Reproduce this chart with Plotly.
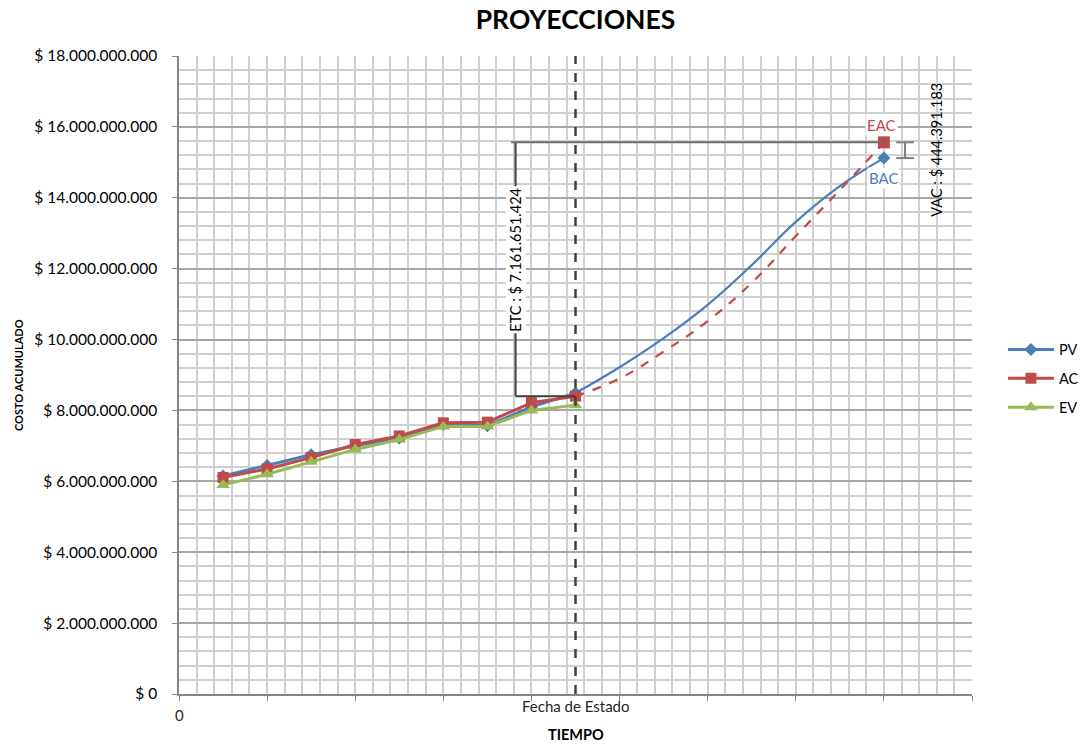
import plotly.graph_objects as go

# ---- data ----
periods = [1, 2, 3, 4, 5, 6, 7, 8, 9]
pv = [6.15e9, 6.45e9, 6.75e9, 7.00e9, 7.22e9, 7.60e9, 7.57e9, 8.10e9, 8.49e9]
ac = [6.11e9, 6.35e9, 6.67e9, 7.04e9, 7.28e9, 7.65e9, 7.67e9, 8.22e9, 8.403e9]
ev = [5.90e9, 6.20e9, 6.55e9, 6.90e9, 7.18e9, 7.55e9, 7.55e9, 8.00e9, 8.15e9]

forecast_periods = [9, 10, 11, 12, 13, 14, 15, 16]
pv_forecast = [8.49e9, 9.22e9, 10.04e9, 10.98e9, 12.10e9, 13.32e9, 14.33e9, 15.12e9]
eac_forecast = [8.403e9, 8.90e9, 9.66e9, 10.52e9, 11.60e9, 12.92e9, 14.22e9, 15.564e9]

status_period = 9
end_period = 16
bac = 15.12e9
eac = 15.564e9
ac_status = 8.403e9
etc_text = "ETC : $ 7.161.651.424"
vac_text = "VAC : $ 444.391.183"

ytick_vals = [0, 2e9, 4e9, 6e9, 8e9, 10e9, 12e9, 14e9, 16e9, 18e9]
ytick_text = ["$ 0", "$ 2.000.000.000", "$ 4.000.000.000", "$ 6.000.000.000",
              "$ 8.000.000.000", "$ 10.000.000.000", "$ 12.000.000.000",
              "$ 14.000.000.000", "$ 16.000.000.000", "$ 18.000.000.000"]

C_PV = "#4a7ebb"
C_AC = "#be4b48"
C_EV = "#98b954"
FONT = "Lato"

fig = go.Figure()

# forecast curves
fig.add_trace(go.Scatter(x=forecast_periods, y=pv_forecast, mode="lines",
                         line=dict(color=C_PV, width=2.2, shape="spline", smoothing=1.2),
                         showlegend=False, hoverinfo="skip"))
fig.add_trace(go.Scatter(x=forecast_periods, y=eac_forecast, mode="lines",
                         line=dict(color=C_AC, width=2.2, dash="dash", shape="spline", smoothing=1.2),
                         showlegend=False, hoverinfo="skip"))

# actual series
fig.add_trace(go.Scatter(x=periods, y=pv, mode="lines+markers", name="PV", legendgroup="pv",
                         line=dict(color=C_PV, width=3),
                         marker=dict(symbol="diamond", size=10, color=C_PV)))
fig.add_trace(go.Scatter(x=periods, y=ac, mode="lines+markers", name="AC", legendgroup="ac",
                         line=dict(color=C_AC, width=3),
                         marker=dict(symbol="square", size=11, color=C_AC)))
fig.add_trace(go.Scatter(x=periods, y=ev, mode="lines+markers", name="EV", legendgroup="ev",
                         line=dict(color=C_EV, width=3),
                         marker=dict(symbol="triangle-up", size=12, color=C_EV)))

# BAC / EAC end points
fig.add_trace(go.Scatter(x=[end_period], y=[bac], mode="markers", showlegend=False,
                         marker=dict(symbol="diamond", size=10, color=C_PV)))
fig.add_trace(go.Scatter(x=[end_period], y=[eac], mode="markers", showlegend=False,
                         marker=dict(symbol="square", size=12, color=C_AC)))

etc_x = 7.64
vac_x = 16.48
shapes = [
    # status date dashed line
    dict(type="line", xref="x", yref="paper", x0=status_period, x1=status_period,
         y0=0, y1=1, line=dict(color="#3f3f3f", width=2.5, dash="dash")),
    # ETC bracket
    dict(type="line", xref="x", yref="y", x0=etc_x, x1=etc_x, y0=ac_status, y1=eac,
         line=dict(color="#404040", width=2)),
    dict(type="line", xref="x", yref="y", x0=etc_x, x1=status_period, y0=ac_status, y1=ac_status,
         line=dict(color="#404040", width=2)),
    dict(type="line", xref="x", yref="y", x0=etc_x - 0.1, x1=end_period, y0=eac, y1=eac,
         line=dict(color="#6b6b6b", width=2)),
    # VAC I-beam
    dict(type="line", xref="x", yref="y", x0=vac_x, x1=vac_x, y0=bac, y1=eac,
         line=dict(color="#7f7f7f", width=2)),
    dict(type="line", xref="x", yref="y", x0=vac_x - 0.2, x1=vac_x + 0.2, y0=eac, y1=eac,
         line=dict(color="#7f7f7f", width=2)),
    dict(type="line", xref="x", yref="y", x0=vac_x - 0.2, x1=vac_x + 0.2, y0=bac, y1=bac,
         line=dict(color="#7f7f7f", width=2)),
]

annotations = [
    dict(x=etc_x, y=12.24e9, xref="x", yref="y", text=etc_text, textangle=-90,
         showarrow=False, bgcolor="white", font=dict(family=FONT, size=14.5, color="black")),
    dict(x=17.2, y=15.35e9, xref="x", yref="y", text=vac_text, textangle=-90,
         showarrow=False, font=dict(family=FONT, size=14.5, color="black")),
    dict(x=end_period - 0.05, y=16.05e9, xref="x", yref="y", text="EAC", showarrow=False,
         bgcolor="white", font=dict(family=FONT, size=15, color=C_AC)),
    dict(x=end_period, y=14.56e9, xref="x", yref="y", text="BAC", showarrow=False,
         bgcolor="white", font=dict(family=FONT, size=15, color=C_PV)),
    dict(x=0, y=-0.033, xref="x", yref="paper", text="0", showarrow=False,
         xanchor="center", yanchor="middle",
         font=dict(family=FONT, size=15, color="#262626")),
    dict(x=status_period, y=-0.019, xref="x", yref="paper", text="Fecha de Estado",
         showarrow=False, xanchor="center", yanchor="middle",
         font=dict(family=FONT, size=15, color="#262626")),
    dict(x=0.5, y=-0.064, xref="paper", yref="paper", text="<b>TIEMPO</b>",
         showarrow=False, xanchor="center", yanchor="middle",
         font=dict(family=FONT, size=14.5, color="black")),
    dict(x=-0.203, y=0.5, xref="paper", yref="paper", text="<b>COSTO ACUMULADO</b>",
         textangle=-90, showarrow=False, xanchor="center", yanchor="middle",
         font=dict(family=FONT, size=11, color="black")),
]

W, H = 1081, 744
fig.update_layout(
    width=W, height=H,
    margin=dict(l=179, r=109, t=56, b=50, autoexpand=False),
    paper_bgcolor="white", plot_bgcolor="white",
    title=dict(text="<b>PROYECCIONES</b>", x=(179 + 972) / 2 / W, xanchor="center",
               y=1 - 20 / H, yanchor="middle",
               font=dict(family=FONT, size=26.5, color="black")),
    font=dict(family=FONT, size=14, color="black"),
    shapes=shapes, annotations=annotations,
    legend=dict(x=1.039, y=0.565, xanchor="left", yanchor="top",
                font=dict(family=FONT, size=14.5, color="black"),
                bgcolor="rgba(0,0,0,0)", tracegroupgap=7, itemwidth=46),
    showlegend=True,
)

fig.update_xaxes(range=[0, 18], tickmode="linear", tick0=0, dtick=2,
                 showticklabels=False, ticks="outside", ticklen=5, tickcolor="#868686",
                 showgrid=True, gridcolor="#d0d0d0", gridwidth=1.5,
                 minor=dict(dtick=0.4, tick0=0, showgrid=True, gridcolor="#d0d0d0", gridwidth=1.5),
                 showline=True, linecolor="#868686", linewidth=1.5, zeroline=False)
fig.update_yaxes(range=[0, 18e9], tickmode="array", tickvals=ytick_vals, ticktext=ytick_text,
                 ticks="outside", ticklen=5, tickcolor="#868686", ticklabelstandoff=12,
                 tickfont=dict(family=FONT, size=15.5, color="black"),
                 showgrid=True, gridcolor="#a6a6a6", gridwidth=1.5,
                 minor=dict(dtick=0.4e9, tick0=0, showgrid=True, gridcolor="#d0d0d0", gridwidth=1.5),
                 showline=True, linecolor="#868686", linewidth=1.5, zeroline=False)

# remove the default 8px page margin so the figure sits at the window's corner
fig.write_html("out.html", config={"displayModeBar": False},
               post_script="document.body.style.margin='0px';document.body.style.overflow='hidden';")
